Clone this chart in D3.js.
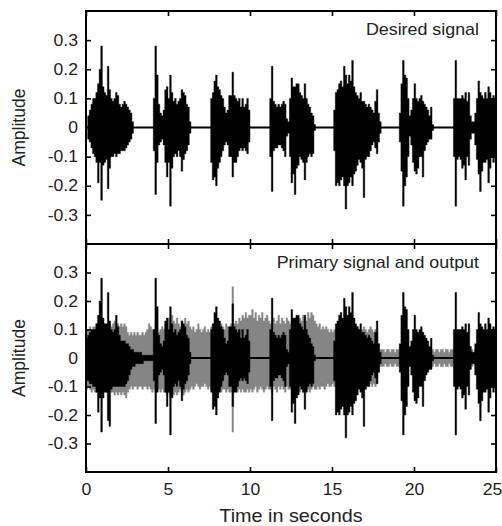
<!DOCTYPE html>
<html>
<head>
<meta charset="utf-8">
<script src="https://cdn.jsdelivr.net/npm/d3@7"></script>
<style>
body { margin: 0; background: #fff; }
text { font-family: "Liberation Sans", Arial, sans-serif; }
</style>
</head>
<body>
<svg id="chart" width="502" height="526"></svg>
<script>
// amplitude envelopes, one value per 0.1 s, in hundredths
var binSize = 0.1;

var desiredHi = [
  0,4,6,8,10,10,12,15,20,28, 14,12,11,21,13,10,9,10,12,11,
  8,7,8,9,8,7,6,5,2,0, 0,0,0,0,0,0,0,0,0,0,
  0,10,28,18,8,5,4,6,13,14, 10,18,12,9,10,8,9,10,13,12,
  11,8,7,2,0,0,0,0,0,0, 0,0,0,0,0,0,10,12,16,18,
  14,13,11,10,7,5,6,11,11,19, 11,10,9,10,7,10,7,8,10,6,
  0,0,0,0,0,0,0,0,0,0, 0,0,10,21,9,8,7,8,7,8,
  9,8,3,2,10,17,14,14,15,15, 12,11,10,15,10,8,7,5,4,1,
  0,0,0,0,0,0,0,0,0,0, 0,6,12,13,15,16,14,21,18,15,
  18,16,23,14,12,11,10,12,9,9, 8,7,8,7,6,5,9,13,5,2,
  0,0,0,0,0,0,0,0,0,0, 0,5,15,23,18,17,10,4,6,10,
  15,10,9,10,11,9,8,7,6,4, 7,1,0,0,0,0,0,0,0,0,
  0,0,0,0,10,23,10,10,10,11, 10,12,9,12,4,2,2,5,10,16,
  12,11,10,12,10,14,12,10,11,10
];
var desiredLo = [
  0,-4,-5,-7,-9,-10,-12,-19,-12,-25, -13,-12,-11,-21,-14,-10,-10,-9,-10,-9,
  -9,-8,-8,-8,-7,-6,-5,-4,-2,0, 0,0,0,0,0,0,0,0,0,0,
  0,-8,-23,-12,-6,-5,-4,-6,-12,-17, -12,-27,-14,-10,-9,-10,-8,-10,-15,-11,
  -9,-8,-6,-2,0,0,0,0,0,0, 0,0,0,0,0,0,-12,-18,-17,-20,
  -14,-12,-10,-8,-6,-5,-6,-10,-10,-17, -12,-12,-10,-8,-7,-8,-7,-8,-9,-5,
  0,0,0,0,0,0,0,0,0,0, 0,0,-10,-22,-8,-7,-7,-6,-6,-7,
  -8,-10,-3,-2,-10,-19,-16,-23,-14,-13, -10,-11,-12,-18,-12,-10,-9,-10,-9,-1,
  0,0,0,0,0,0,0,0,0,0, 0,-8,-20,-19,-20,-18,-17,-20,-28,-20,
  -19,-17,-20,-16,-15,-13,-11,-12,-14,-24, -11,-10,-10,-8,-6,-5,-7,-9,-5,-2,
  0,0,0,0,0,0,0,0,0,0, 0,-5,-15,-27,-20,-17,-10,-3,-6,-12,
  -15,-16,-14,-10,-10,-17,-8,-6,-5,-4, -4,-1,0,0,0,0,0,0,0,0,
  0,0,0,0,-10,-27,-11,-10,-11,-14, -13,-18,-10,-13,-4,-2,-2,-6,-11,-16,
  -22,-15,-12,-12,-11,-19,-14,-10,-12,-10
];

// output during the first 4 s, before the filter has converged
var outputStartHi = [
  7,8,9,10,10,10,12,15,20,28, 14,12,12,23,13,10,9,10,15,11,
  8,6,6,6,5,5,4,3,3,2, 2,2,2,2,1,1,1,1,1,1, 1
];
var outputStartLo = [
  -8,-8,-9,-9,-10,-10,-12,-19,-14,-26, -14,-12,-12,-22,-24,-11,-10,-10,-10,-10,
  -10,-10,-10,-10,-9,-8,-6,-4,-3,-3, -2,-2,-2,-2,-2,-1,-1,-1,-1,-1, -1
];
// after that the output follows the desired signal
var outputHi = outputStartHi.concat(desiredHi.slice(outputStartHi.length));
var outputLo = outputStartLo.concat(desiredLo.slice(outputStartLo.length));

var primaryHi = [
  10,10,11,10,11,11,12,11,12,12, 11,12,11,12,12,11,12,13,12,12,
  11,12,11,12,11,9,8,9,8,9, 8,9,8,8,9,8,9,10,12,11,
  10,10,11,10,9,10,11,10,12,13, 14,12,15,13,12,14,12,11,13,12,
  14,12,13,11,10,11,9,10,12,10, 9,10,11,9,10,9,11,12,10,11,
  10,11,12,11,10,12,11,10,12,25, 12,13,12,14,13,15,14,16,14,15,
  15,17,14,16,13,15,14,16,13,14, 15,13,12,13,14,12,13,15,12,14,
  13,12,14,13,12,13,12,14,13,12, 14,13,15,14,13,16,14,16,15,13,
  12,11,12,10,11,10,11,10,9,10, 9,10,10,11,10,11,10,11,12,10,
  11,10,12,11,10,11,10,9,10,11, 10,9,10,11,10,9,10,9,5,3,
  3,3,2,3,3,2,3,3,2,3, 3,2,3,3,2,3,3,2,3,3,
  2,3,3,2,3,3,2,3,3,2, 3,3,2,3,3,2,3,3,2,3,
  3,2,3,3,2,3,3,2,3,3, 2,3,3,2,3,3,2,3,3,2,
  3,3,2,3,3,2,3,3,2,3
];
var primaryLo = [
  -11,-10,-11,-12,-11,-12,-12,-11,-12,-12, -12,-11,-12,-12,-11,-12,-12,-13,-12,-13,
  -12,-13,-12,-13,-14,-12,-11,-10,-11,-10, -10,-11,-10,-10,-11,-10,-10,-11,-10,-11,
  -12,-11,-12,-11,-11,-12,-11,-12,-12,-13, -12,-14,-12,-13,-12,-13,-12,-11,-12,-13,
  -12,-11,-12,-11,-10,-11,-10,-9,-10,-11, -10,-10,-9,-10,-11,-10,-11,-12,-11,-12,
  -11,-11,-12,-11,-11,-12,-11,-12,-12,-26, -12,-11,-12,-11,-12,-11,-12,-12,-11,-12,
  -11,-12,-11,-10,-12,-11,-10,-11,-12,-11, -10,-11,-11,-12,-10,-11,-12,-10,-11,-10,
  -11,-12,-10,-11,-11,-11,-12,-11,-12,-11, -12,-11,-12,-11,-10,-11,-12,-11,-10,-11,
  -11,-10,-11,-10,-10,-11,-10,-9,-10,-10, -9,-10,-10,-11,-10,-11,-10,-11,-10,-11,
  -10,-11,-10,-11,-10,-9,-10,-11,-10,-9, -10,-9,-10,-9,-10,-9,-10,-9,-5,-3,
  -3,-3,-2,-3,-3,-2,-3,-3,-2,-3, -3,-2,-3,-3,-2,-3,-3,-2,-3,-3,
  -2,-3,-3,-2,-3,-3,-2,-3,-3,-2, -3,-3,-2,-3,-3,-2,-3,-3,-2,-3,
  -3,-2,-3,-3,-2,-3,-3,-2,-3,-3, -2,-3,-3,-2,-3,-3,-2,-3,-3,-2,
  -3,-3,-2,-3,-3,-2,-3,-3,-2,-3
];

var xTicks = [0, 5, 10, 15, 20, 25];
var yTicks = [0.3, 0.2, 0.1, 0, -0.1, -0.2, -0.3];

var svg = d3.select("#chart");
var left = 86, right = 496;

var x = d3.scaleLinear().domain([0, 25]).range([left, right]);

// the lettering in the figure is a little wider than plain Arial
function stretch(sel, origin, k) {
  sel.style("transform-box", "fill-box")
    .style("transform-origin", origin)
    .style("transform", "scaleX(" + k + ")");
}

function toBins(hi, lo) {
  var bins = hi.map(function(h, i) {
    return {t: i * binSize, hi: h / 100, lo: lo[i] / 100};
  });
  // closing point so the last step reaches the right edge
  var last = bins[bins.length - 1];
  bins.push({t: bins.length * binSize, hi: last.hi, lo: last.lo});
  return bins;
}

function drawPanel(top, bottom, layers, title, showX) {
  var y = d3.scaleLinear().domain([-0.4, 0.4]).range([bottom, top]);
  var g = svg.append("g");

  var area = d3.area()
    .curve(d3.curveStepAfter)
    .x(function(d) { return x(d.t); })
    .y0(function(d) { return y(d.lo); })
    .y1(function(d) { return y(d.hi); });

  layers.forEach(function(layer) {
    g.append("path")
      .datum(toBins(layer.hi, layer.lo))
      .attr("d", area)
      .attr("fill", layer.color)
      .attr("stroke", layer.color)
      .attr("stroke-width", 0.4);
  });

  // flat line through the silent parts
  g.append("line")
    .attr("x1", left).attr("x2", right)
    .attr("y1", y(0)).attr("y2", y(0))
    .attr("stroke", "#000").attr("stroke-width", 2);

  var yl = g.append("g").attr("transform", "translate(" + left + ",0)")
    .call(d3.axisLeft(y).tickValues(yTicks).tickSize(-5).tickPadding(8)
      .tickFormat(function(d) { return String(d); }));
  var yr = g.append("g").attr("transform", "translate(" + right + ",0)")
    .call(d3.axisRight(y).tickValues(yTicks).tickSize(-5).tickFormat(""));
  var xt = g.append("g").attr("transform", "translate(0," + top + ")")
    .call(d3.axisTop(x).tickValues(xTicks).tickSize(-5).tickFormat(""));
  var xb = g.append("g").attr("transform", "translate(0," + bottom + ")")
    .call(d3.axisBottom(x).tickValues(xTicks).tickSize(-5).tickPadding(12)
      .tickFormat(showX ? function(d) { return d; } : ""));

  [yl, yr, xt, xb].forEach(function(a) {
    a.select(".domain").remove();
    a.selectAll("line").attr("stroke-width", 1.6);
    a.selectAll("text").attr("font-size", "16px").attr("fill", "#222")
      .style("font-family", "'Liberation Sans', Arial, sans-serif");
  });
  stretch(yl.selectAll("text"), "right center", 1.1);
  stretch(xb.selectAll("text"), "center", 1.1);
  // keep the last time label inside the window
  xb.selectAll("text").filter(function(d) { return d === 25; }).attr("dx", -4);

  g.append("rect")
    .attr("x", left).attr("y", top)
    .attr("width", right - left).attr("height", bottom - top)
    .attr("fill", "none").attr("stroke", "#000").attr("stroke-width", 2);

  g.append("text")
    .attr("x", 479).attr("y", top + 24)
    .attr("text-anchor", "end")
    .attr("font-size", "17px").attr("fill", "#222")
    .text(title)
    .call(stretch, "right center", 1.05);

  g.append("text")
    .attr("transform", "translate(25," + y(0) + ") rotate(-90)")
    .attr("text-anchor", "middle")
    .attr("font-size", "17.5px").attr("fill", "#222")
    .text("Amplitude");
}

drawPanel(11, 244, [{hi: desiredHi, lo: desiredLo, color: "#000"}], "Desired signal", false);
drawPanel(244, 472, [
  {hi: primaryHi, lo: primaryLo, color: "#858585"},
  {hi: outputHi, lo: outputLo, color: "#000"}
], "Primary signal and output", true);

svg.append("text")
  .attr("x", x(12.5)).attr("y", 522)
  .attr("text-anchor", "middle")
  .attr("font-size", "18px").attr("fill", "#222")
  .text("Time in seconds")
  .call(stretch, "center", 1.1);
</script>
</body>
</html>
